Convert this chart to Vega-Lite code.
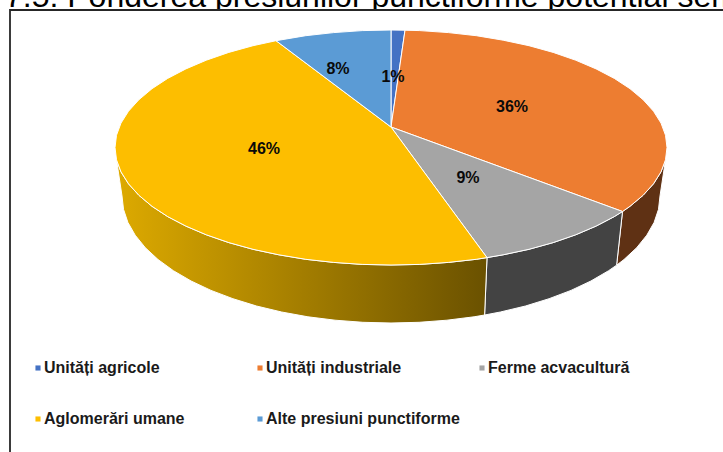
{
"$schema":"https://vega.github.io/schema/vega-lite/v6.json",
"width":723,"height":452,"padding":0,"autosize":{"type":"none"},
"background":"white",
"config":{"view":{"stroke":null},"font":"Liberation Sans"},
"datasets":{
"titlu":[{"x":5,"y":7,"t":"7.5: Ponderea presiunilor punctiforme potențial sem"}],
"cadru":[{"o":1,"x":10,"y":470},{"o":2,"x":10,"y":10},{"o":3,"x":740,"y":10},{"o":4,"x":740,"y":470},{"o":5,"x":10,"y":470}],
"pereti":[
{"s":"Unități industriale","o":1,"x":622.5,"y":211.5},{"s":"Unități industriale","o":2,"x":630,"y":206.3},{"s":"Unități industriale","o":3,"x":643.1,"y":195.3},{"s":"Unități industriale","o":4,"x":653.5,"y":183.8},{"s":"Unități industriale","o":5,"x":661,"y":171.9},{"s":"Unități industriale","o":6,"x":665.5,"y":159.8},{"s":"Unități industriale","o":7,"x":660,"y":196},{"s":"Unități industriale","o":8,"x":658.5,"y":209.3},{"s":"Unități industriale","o":9,"x":654.1,"y":222.4},{"s":"Unități industriale","o":10,"x":646.8,"y":235.2},{"s":"Unități industriale","o":11,"x":636.7,"y":247.7},{"s":"Unități industriale","o":12,"x":624,"y":259.5},{"s":"Unități industriale","o":13,"x":616.6,"y":265.2},{"s":"Unități industriale","o":14,"x":622.5,"y":211.5},
{"s":"Ferme acvacultură","o":1,"x":622.5,"y":211.5},{"s":"Ferme acvacultură","o":2,"x":614.3,"y":216.6},{"s":"Ferme acvacultură","o":3,"x":596.1,"y":226.1},{"s":"Ferme acvacultură","o":4,"x":575.7,"y":234.8},{"s":"Ferme acvacultură","o":5,"x":553.2,"y":242.6},{"s":"Ferme acvacultură","o":6,"x":529,"y":249.3},{"s":"Ferme acvacultură","o":7,"x":503.2,"y":254.8},{"s":"Ferme acvacultură","o":8,"x":487,"y":257.6},{"s":"Ferme acvacultură","o":9,"x":484.6,"y":315},{"s":"Ferme acvacultură","o":10,"x":500.4,"y":312},{"s":"Ferme acvacultură","o":11,"x":525.5,"y":306},{"s":"Ferme acvacultură","o":12,"x":549.1,"y":298.7},{"s":"Ferme acvacultură","o":13,"x":571,"y":290.4},{"s":"Ferme acvacultură","o":14,"x":590.9,"y":281},{"s":"Ferme acvacultură","o":15,"x":608.6,"y":270.7},{"s":"Ferme acvacultură","o":16,"x":616.6,"y":265.2},{"s":"Ferme acvacultură","o":17,"x":622.5,"y":211.5}
],
"peretiAglomerari":[
{"o":1,"x":487,"y":257.6},{"o":2,"x":476.3,"y":259.3},{"o":3,"x":448.4,"y":262.4},{"o":4,"x":419.8,"y":264.4},{"o":5,"x":391,"y":265},{"o":6,"x":362.2,"y":264.4},{"o":7,"x":333.6,"y":262.4},{"o":8,"x":305.7,"y":259.3},{"o":9,"x":278.8,"y":254.8},{"o":10,"x":253,"y":249.3},{"o":11,"x":228.8,"y":242.6},{"o":12,"x":206.3,"y":234.8},{"o":13,"x":185.9,"y":226.1},{"o":14,"x":167.7,"y":216.6},{"o":15,"x":152,"y":206.3},{"o":16,"x":138.9,"y":195.3},{"o":17,"x":128.5,"y":183.8},{"o":18,"x":121,"y":171.9},{"o":19,"x":116.5,"y":159.8},{"o":20,"x":122,"y":196},{"o":21,"x":123.5,"y":209.3},{"o":22,"x":127.9,"y":222.4},{"o":23,"x":135.2,"y":235.2},{"o":24,"x":145.3,"y":247.7},{"o":25,"x":158,"y":259.5},{"o":26,"x":173.4,"y":270.7},{"o":27,"x":191.1,"y":281},{"o":28,"x":211,"y":290.4},{"o":29,"x":232.9,"y":298.7},{"o":30,"x":256.5,"y":306},{"o":31,"x":281.6,"y":312},{"o":32,"x":307.9,"y":316.8},{"o":33,"x":335.1,"y":320.2},{"o":34,"x":362.9,"y":322.3},{"o":35,"x":391,"y":323},{"o":36,"x":419.1,"y":322.3},{"o":37,"x":446.9,"y":320.2},{"o":38,"x":474.1,"y":316.8},{"o":39,"x":484.6,"y":315},{"o":40,"x":487,"y":257.6}
],
"felii":[
{"s":"Unități agricole","o":1,"x":391,"y":127},{"s":"Unități agricole","o":2,"x":391,"y":30},{"s":"Unități agricole","o":3,"x":405,"y":30.2},{"s":"Unități agricole","o":4,"x":391,"y":127},
{"s":"Unități industriale","o":1,"x":391,"y":127},{"s":"Unități industriale","o":2,"x":405,"y":30.2},{"s":"Unități industriale","o":3,"x":419.8,"y":30.6},{"s":"Unități industriale","o":4,"x":448.4,"y":32.6},{"s":"Unități industriale","o":5,"x":476.3,"y":35.7},{"s":"Unități industriale","o":6,"x":503.2,"y":40.2},{"s":"Unități industriale","o":7,"x":529,"y":45.7},{"s":"Unități industriale","o":8,"x":553.2,"y":52.4},{"s":"Unități industriale","o":9,"x":575.7,"y":60.2},{"s":"Unități industriale","o":10,"x":596.1,"y":68.9},{"s":"Unități industriale","o":11,"x":614.3,"y":78.4},{"s":"Unități industriale","o":12,"x":630,"y":88.7},{"s":"Unități industriale","o":13,"x":643.1,"y":99.7},{"s":"Unități industriale","o":14,"x":653.5,"y":111.2},{"s":"Unități industriale","o":15,"x":661,"y":123.1},{"s":"Unități industriale","o":16,"x":665.5,"y":135.2},{"s":"Unități industriale","o":17,"x":667,"y":147.5},{"s":"Unități industriale","o":18,"x":665.5,"y":159.8},{"s":"Unități industriale","o":19,"x":661,"y":171.9},{"s":"Unități industriale","o":20,"x":653.5,"y":183.8},{"s":"Unități industriale","o":21,"x":643.1,"y":195.3},{"s":"Unități industriale","o":22,"x":630,"y":206.3},{"s":"Unități industriale","o":23,"x":622.5,"y":211.5},{"s":"Unități industriale","o":24,"x":391,"y":127},
{"s":"Ferme acvacultură","o":1,"x":391,"y":127},{"s":"Ferme acvacultură","o":2,"x":622.5,"y":211.5},{"s":"Ferme acvacultură","o":3,"x":614.3,"y":216.6},{"s":"Ferme acvacultură","o":4,"x":596.1,"y":226.1},{"s":"Ferme acvacultură","o":5,"x":575.7,"y":234.8},{"s":"Ferme acvacultură","o":6,"x":553.2,"y":242.6},{"s":"Ferme acvacultură","o":7,"x":529,"y":249.3},{"s":"Ferme acvacultură","o":8,"x":503.2,"y":254.8},{"s":"Ferme acvacultură","o":9,"x":487,"y":257.6},{"s":"Ferme acvacultură","o":10,"x":391,"y":127},
{"s":"Aglomerări umane","o":1,"x":391,"y":127},{"s":"Aglomerări umane","o":2,"x":487,"y":257.6},{"s":"Aglomerări umane","o":3,"x":476.3,"y":259.3},{"s":"Aglomerări umane","o":4,"x":448.4,"y":262.4},{"s":"Aglomerări umane","o":5,"x":419.8,"y":264.4},{"s":"Aglomerări umane","o":6,"x":391,"y":265},{"s":"Aglomerări umane","o":7,"x":362.2,"y":264.4},{"s":"Aglomerări umane","o":8,"x":333.6,"y":262.4},{"s":"Aglomerări umane","o":9,"x":305.7,"y":259.3},{"s":"Aglomerări umane","o":10,"x":278.8,"y":254.8},{"s":"Aglomerări umane","o":11,"x":253,"y":249.3},{"s":"Aglomerări umane","o":12,"x":228.8,"y":242.6},{"s":"Aglomerări umane","o":13,"x":206.3,"y":234.8},{"s":"Aglomerări umane","o":14,"x":185.9,"y":226.1},{"s":"Aglomerări umane","o":15,"x":167.7,"y":216.6},{"s":"Aglomerări umane","o":16,"x":152,"y":206.3},{"s":"Aglomerări umane","o":17,"x":138.9,"y":195.3},{"s":"Aglomerări umane","o":18,"x":128.5,"y":183.8},{"s":"Aglomerări umane","o":19,"x":121,"y":171.9},{"s":"Aglomerări umane","o":20,"x":116.5,"y":159.8},{"s":"Aglomerări umane","o":21,"x":115,"y":147.5},{"s":"Aglomerări umane","o":22,"x":116.5,"y":135.2},{"s":"Aglomerări umane","o":23,"x":121,"y":123.1},{"s":"Aglomerări umane","o":24,"x":128.5,"y":111.2},{"s":"Aglomerări umane","o":25,"x":138.9,"y":99.7},{"s":"Aglomerări umane","o":26,"x":152,"y":88.7},{"s":"Aglomerări umane","o":27,"x":167.7,"y":78.4},{"s":"Aglomerări umane","o":28,"x":185.9,"y":68.9},{"s":"Aglomerări umane","o":29,"x":206.3,"y":60.2},{"s":"Aglomerări umane","o":30,"x":228.8,"y":52.4},{"s":"Aglomerări umane","o":31,"x":253,"y":45.7},{"s":"Aglomerări umane","o":32,"x":276,"y":40.7},{"s":"Aglomerări umane","o":33,"x":391,"y":127},
{"s":"Alte presiuni punctiforme","o":1,"x":391,"y":127},{"s":"Alte presiuni punctiforme","o":2,"x":276,"y":40.7},{"s":"Alte presiuni punctiforme","o":3,"x":305.7,"y":35.7},{"s":"Alte presiuni punctiforme","o":4,"x":333.6,"y":32.6},{"s":"Alte presiuni punctiforme","o":5,"x":362.2,"y":30.6},{"s":"Alte presiuni punctiforme","o":6,"x":391,"y":30},{"s":"Alte presiuni punctiforme","o":7,"x":391,"y":127}
],
"etichete":[
{"t":"1%","x":393,"y":77},{"t":"36%","x":512,"y":107},{"t":"9%","x":468,"y":178},{"t":"46%","x":264,"y":149},{"t":"8%","x":338,"y":69}
]
},
"encoding":{
"x":{"field":"x","type":"quantitative","scale":{"domain":[0,723],"nice":false,"zero":false},"axis":null},
"y":{"field":"y","type":"quantitative","scale":{"domain":[452,0],"nice":false,"zero":false},"axis":null}
},
"layer":[
{"data":{"name":"titlu"},"mark":{"type":"text","align":"left","baseline":"alphabetic","fontSize":32,"font":"Liberation Sans","color":"#000000"},"encoding":{"text":{"field":"t"}}},
{"data":{"name":"cadru"},"mark":{"type":"line","clip":true,"fill":"white","stroke":"#262626","strokeWidth":1.8},"encoding":{"order":{"field":"o","type":"quantitative"}}},
{"data":{"name":"pereti"},"mark":{"type":"line","stroke":"white","strokeWidth":1},"encoding":{"order":{"field":"o","type":"quantitative"},"fill":{"field":"s","type":"nominal","legend":null,"scale":{"domain":["Unități industriale","Ferme acvacultură"],"range":["#5F3114","#434343"]}}}},
{"data":{"name":"peretiAglomerari"},"mark":{"type":"line","stroke":"white","strokeWidth":1,"fill":{"gradient":"linear","x1":0,"x2":1,"y1":0,"y2":0,"stops":[{"offset":0,"color":"#DDAA00"},{"offset":1,"color":"#6A5100"}]}},"encoding":{"order":{"field":"o","type":"quantitative"}}},
{"data":{"name":"felii"},"mark":{"type":"line","stroke":"white","strokeWidth":1},"encoding":{"order":{"field":"o","type":"quantitative"},"fill":{"field":"s","type":"nominal","scale":{"domain":["Unități agricole","Aglomerări umane","Unități industriale","Alte presiuni punctiforme","Ferme acvacultură"],"range":["#4472C4","#FDBE00","#ED7D31","#5B9BD5","#A5A5A5"]},"legend":{"title":null,"orient":"none","legendX":30,"legendY":360,"columns":3,"gridAlign":"all","columnPadding":14,"rowPadding":35,"symbolType":"square","symbolSize":26,"symbolStrokeWidth":0,"labelFont":"Liberation Sans","labelFontWeight":"bold","labelFontSize":16,"labelColor":"#1a1a1a","labelLimit":300,"labelOffset":-2}}}},
{"data":{"name":"etichete"},"mark":{"type":"text","align":"center","baseline":"middle","fontSize":16,"fontWeight":"bold","font":"Liberation Sans","color":"#0a0a0a"},"encoding":{"text":{"field":"t"}}}
],
"resolve":{"scale":{"fill":"independent"}}
}
